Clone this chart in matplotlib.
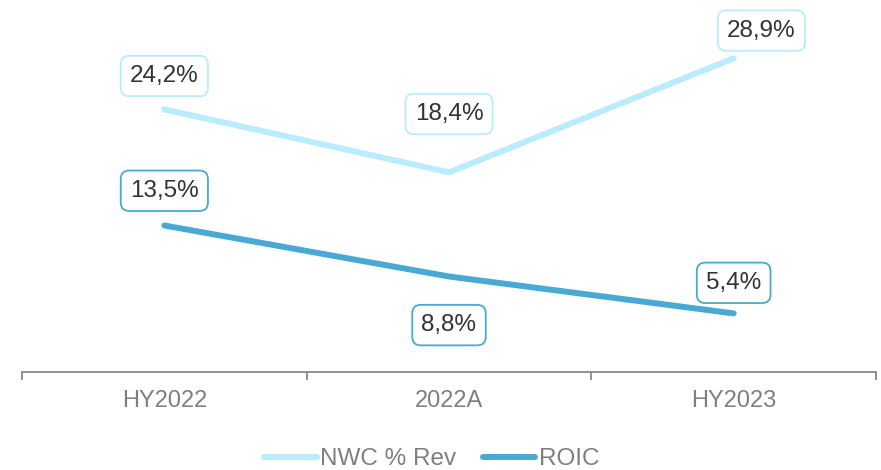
import matplotlib.pyplot as plt
import numpy as np

plt.rcParams['font.family'] = ['Liberation Sans', 'DejaVu Sans']

periods = ['HY2022', '2022A', 'HY2023']
nwc_rev = [24.2, 18.4, 28.9]
roic = [13.5, 8.8, 5.4]

nwc_color = '#b9ecfd'
roic_color = '#48a9d5'
grey = '#7f7f7f'

fig = plt.figure(figsize=(8.81, 4.70), dpi=100)
ax = fig.add_axes([22 / 881, 98 / 470, 854 / 881, 369 / 470])

x = np.arange(len(periods))
ax.plot(x, nwc_rev, color=nwc_color, lw=4.3, solid_capstyle='round', label='NWC % Rev', clip_on=False)
ax.plot(x, roic, color=roic_color, lw=4.3, solid_capstyle='round', label='ROIC', clip_on=False)

# label offsets in points (dx, dy)
nwc_off = [(0, 24), (0, 42), (20, 20)]
roic_off = [(0, 25), (0, -35), (0, 22)]

def add_labels(vals, offs, edge):
    for xi, v, (dx, dy) in zip(x, vals, offs):
        ax.annotate(f'{v:.1f}%'.replace('.', ','), (xi, v), xytext=(dx, dy),
                    textcoords='offset points', ha='center', va='center',
                    fontsize=17.5, color='#333333',
                    bbox=dict(boxstyle='round,pad=0.38,rounding_size=0.35',
                              fc='white', ec=edge, lw=1.3))

add_labels(nwc_rev, nwc_off, nwc_color)
add_labels(roic, roic_off, roic_color)

ax.set_xlim(-0.5, 2.5)
ax.set_ylim(0, 34)
ax.set_yticks([])
for s in ['left', 'right', 'top']:
    ax.spines[s].set_visible(False)
ax.spines['bottom'].set_color('#888888')
ax.spines['bottom'].set_linewidth(1.3)

ax.set_xticks(x)
ax.set_xticklabels(periods, fontsize=17, color=grey)
ax.tick_params(axis='x', which='major', length=0, pad=13)
ax.set_xticks([-0.5, 0.5, 1.5, 2.5], minor=True)
ax.tick_params(axis='x', which='minor', length=6, width=1.3, color='#888888', direction='out')

leg = ax.legend(loc='center', bbox_to_anchor=(0.48, -0.237), ncol=2, frameon=False,
                fontsize=17.5, handlelength=2.15, handletextpad=0.15, columnspacing=1.1)
for t in leg.get_texts():
    t.set_color(grey)

fig.savefig('out.png', dpi=100)
